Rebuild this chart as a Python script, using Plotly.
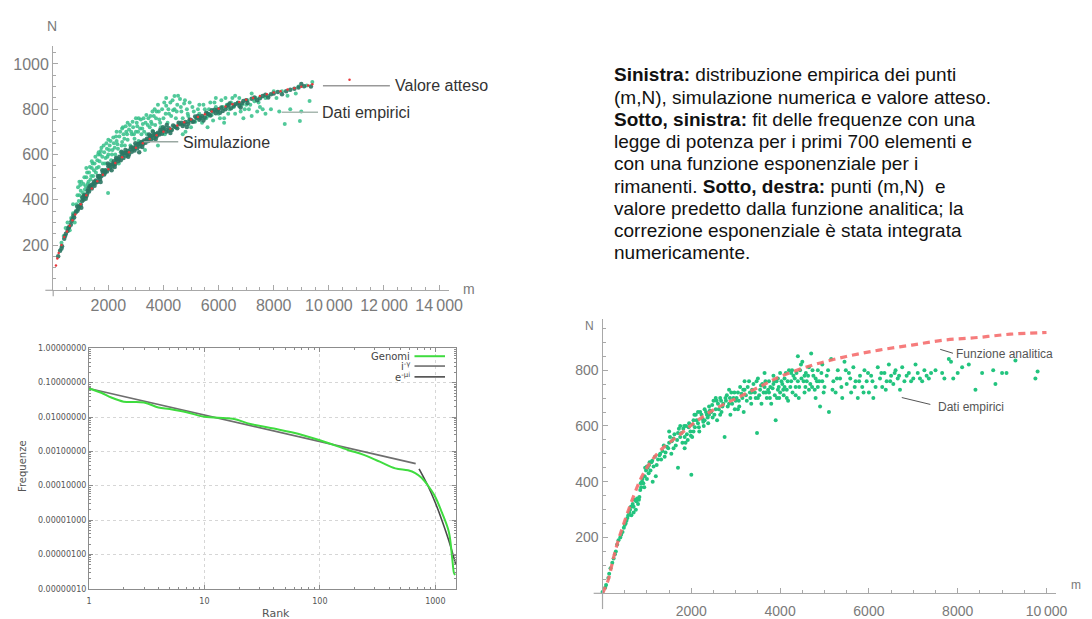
import plotly.graph_objects as go

W, H = 1092, 619
def fx(px): return px / W
def fy(py): return 1 - py / H

# ---------------- Top-left chart: (m, N) ----------------
atteso_m = [100,150,200,300,400,500,600,700,800,1000,1200,1400,1600,1800,2000,2250,2500,2750,3000,3250,3500,3750,4000,4250,4500,4750,5000,5250,5500,5750,6000,6250,6500,6750,7000,7250,7500,7750,8000,8250,8500,8750,9000,9250,9400,10750]
atteso_N = [110,140,165,200,235,260,285,310,335,380,420,450,482,510,535,562,588,610,630,650,668,685,700,714,728,742,755,766,778,790,802,812,822,832,842,850,858,866,874,880,887,893,899,905,910,930]

sim_pts = [(180,150),(250,175),(320,195),(400,228),(460,250),(520,262),(580,280),(640,290),(700,315),(760,322),(820,345),(880,352),(940,370),(1000,378),(1050,395),(1100,400),(1150,418),(1200,415),(1250,440),(1300,436),(1350,455),(1400,450),(1450,470),(1500,462),(1550,485),(1600,478),(1650,498),(1700,492),(1750,505),(1800,520),(1850,512),(1900,530),(1950,525),(2000,548),(2050,538),(2100,556),(2150,548),(2200,570),(2250,558),(2300,578),(2350,570),(2400,590),(2450,575),(2500,598),(2550,585),(2600,605),(2650,594),(2700,616),(2750,600),(2800,622),(2850,612),(2900,630),(2950,618),(3000,640),(3050,628),(3100,648),(3150,636),(3200,655),(3250,645),(3300,662),(3350,652),(3400,670),(3450,660),(3500,676),(3550,666),(3600,684),(3650,672),(3700,690),(3750,680),(3800,696),(3850,688),(3900,702),(3950,692),(4000,708),(4100,700),(4200,716),(4300,708),(4400,724),(4500,716),(4600,734),(4700,726),(4800,744),(4900,736),(5000,752),(5100,746),(5200,762),(5300,754),(5400,770),(5500,764),(5600,780),(5700,772),(5800,790),(5900,782),(6000,800),(6150,792),(6300,812),(6450,804),(6600,822),(6750,815),(6900,836),(7050,828),(7200,846),(7400,840),(7600,858),(7800,852),(8000,870),(8300,866),(8600,886),(8900,896),(9100,902),(1020,365),(1230,425),(1480,480),(1720,478),(1980,560),(2230,545),(2480,612),(2720,590),(2980,650),(3230,633),(3480,688),(3720,668),(3980,720),(4250,695),(4550,740),(4850,722),(5150,768),(5450,750),(5750,795),(6050,785),(6400,825),(6800,808),(2120,530),(2620,620),(3120,610),(3620,700),(4120,730),(1620,505),(1320,460),(1120,420),(870,370),(660,305),(9000,912),(9350,900),
           (300,185),(430,240),(550,275),(730,330),(910,360),(1060,410),(1180,405),(1280,450),(1380,465),(1530,475),(1680,505),(1780,530),(1880,520),(2030,555),(2180,560),(2280,585),(2380,580),(2530,605),(2680,605),(2830,632),(2930,625),(3080,645),(3180,650),(3280,655),(3380,662),(3530,682),(3680,688),(3780,690),(3880,708),(4050,715),(4180,705),(4350,728),(4450,720),(4650,740),(4750,735),(4950,755),(5050,745),(5250,770),(5350,762),(5550,785),(5650,778),(5850,798),(5950,795),(6100,808),(6250,800),(6350,818),(6550,815),(6700,828),(6850,826),(7000,840),(7300,852),(7500,848),(7700,864),(7900,866),(8150,876),(8450,880),(8750,890)]

emp1_pts = [(300,210),(380,240),(450,275),(520,300),(600,265),(650,320),(720,340),(780,300),(850,380),(900,455),(950,420),(980,465),(1000,440),(1050,410),(1100,470),(1150,445),(1200,500),(1250,470),(1300,520),(1350,490),(1400,540),(1450,505),(1500,560),(1550,520),(1600,575),(1650,545),(1700,600),(1750,630),(1800,560),(1850,610),(1900,585),(1950,625),(1990,430),(2000,600),(2050,640),(2100,575),(2150,620),(2200,650),(2250,600),(2300,660),(2350,625),(2400,680),(2450,610),(2500,655),(2550,690),(2600,640),(2650,700),(2700,665),(2750,710),(2800,640),(2850,690),(2900,720),(2950,670),(3000,700),(3050,725),(3100,660),(3150,715),(3200,690),(3250,735),(3300,700),(3350,740),(3400,690),(3450,760),(3500,720),(3550,745),(3600,705),(3650,770),(3700,730),(3750,790),(3800,640),(3850,755),(3900,720),(3950,800),(4000,760),(4050,690),(4100,815),(4150,740),(4200,780),(4250,830),(4300,710),(4350,795),(4400,858),(4450,760),(4500,820),(4550,735),(4600,845),(4650,790),(4700,760),(4750,825),(4800,700),(4850,800),(4900,770),(4950,830),(5000,720),(5100,790),(5200,760),(5300,820),(5400,740),(5500,800),(5600,770),(5700,830),(5800,750),(5900,810),(6000,780),(6100,840),(6200,760),(6300,820),(6400,800),(6500,850),(6600,780),(6700,830),(6800,790),(6900,760),(7000,820),(7100,800),(7200,770),(7300,835),(7400,790),(7500,810),(7700,780),(7900,800),(8200,790),(8400,735),(8950,748),(9300,836),(8600,800),(9000,790),(3330,620),(2380,560),(1830,530),(4700,690),(5600,720),(6200,740),(3100,760),(2700,740),(3600,790),(4100,850),(2300,700),(1650,610),(1200,540),(950,480),(720,380),(1400,570),(2000,665),(2500,715),(3000,760),(3800,820),(4400,800),(4900,745),(5300,780),(5900,850),(6600,860),(7200,870),(8000,880),(8800,870),(9200,905),(7700,850),
            (820,350),(880,420),(930,395),(1020,480),(1080,430),(1130,500),(1180,460),(1230,520),(1280,480),(1330,545),(1380,505),(1430,560),(1480,530),(1530,590),(1580,540),(1630,600),(1680,570),(1730,615),(1780,590),(1830,640),(1880,560),(1930,650),(1970,590),(2030,620),(2080,660),(2130,600),(2180,675),(2230,630),(2280,680),(2330,645),(2430,700),(2480,640),(2530,720),(2580,670),(2630,725),(2680,690),(2780,730),(2830,700),(2880,745),(2930,690),(3030,740),(3080,700),(3180,755),(3230,715),(3280,760),(3380,775),(3430,730),(3530,770),(3580,735),(3680,800),(3730,760),(3830,790),(3880,740),(4030,830),(4080,780),(4180,800),(4280,770),(4330,840),(4480,790),(4530,860),(4630,810),(4780,840),(4880,780),(5050,810),(5150,745),(5250,800),(5350,760),(5450,820),(5550,760),(5650,800),(5750,775),(5850,830),(5950,790),(6050,760),(6150,810),(6250,850),(6350,780),(6450,830),(6550,810),(6750,850),(6850,820),(6950,800),(7050,840),(7150,820),(7350,850),(7450,830),(7600,800),(7800,860),(8100,850),(8300,880),(8500,860),(9400,920),(8900,900)]

# ---------------- Bottom-left chart: rank / frequency ----------------
genomi_rank = [1,1.28,1.56,2,3,4,5,7,10,17.6,25,40,57,100,175,240,330,450,580,670,760,870,990,1140,1310,1400,1450,1483]
genomi_freq = [0.068,0.051,0.037,0.028,0.0265,0.019,0.017,0.0138,0.0102,0.0089,0.0063,0.0046,0.0036,0.0021,0.0011,0.00079,0.0005,0.00032,0.00028,0.000234,0.00017,0.0000977,0.00005,0.0000166,0.0000045,0.00000078,0.00000029,0.00000025]
power_rank = [1, 676]
power_freq = [0.068, 0.00044]
exp_rank = [723, 850, 1000, 1150, 1300, 1450, 1504]
exp_freq = [0.00031, 0.00011, 0.000032, 0.0000091, 0.0000027, 0.00000078, 0.0000005]
freq_tickvals = [1e-7,1e-6,1e-5,1e-4,1e-3,1e-2,1e-1,1]
freq_ticktext = ["0.00000010","0.00000100","0.00001000","0.00010000","0.00100000","0.01000000","0.10000000","1.00000000"]

# ---------------- Bottom-right chart: (m, N) + analytic ----------------
anal_m = [0,60,133,244,355,503,687,872,1094,1353,1723,2092,2536,3053,3644,4013,4752,5491,6230,6969,7708,8447,9186,10000]
anal_N = [0,20,50,125,190,261,343,414,473,520,567,614,661,702,749,778,819,849,872,890,908,917,929,935]

emp3_pts = [(0,5),(60,20),(130,55),(180,90),(250,125),(300,150),(360,190),(400,200),(420,210),(480,235),(520,250),(560,270),(600,290),(620,300),(650,280),(680,320),(700,310),(720,335),(750,300),(780,340),(800,320),(820,335),(850,370),(870,380),(890,400),(920,395),(950,420),(980,440),(1000,410),(1020,450),(1050,460),(1080,440),(1100,470),(1130,400),(1150,455),(1200,420),(1250,480),(1300,500),(1350,510),(1400,490),(1450,525),(1500,540),(1550,500),(1600,555),(1650,530),(1700,575),(1700,450),(1750,560),(1800,540),(1820,590),(1850,520),(1880,600),(1900,570),(1920,550),(1950,610),(1980,580),(2000,425),(2020,560),(2050,620),(2080,595),(2100,640),(2150,610),(2180,580),(2200,650),(2250,625),(2280,600),(2300,660),(2350,640),(2380,610),(2400,670),(2450,650),(2480,630),(2500,690),(2550,660),(2580,620),(2600,680),(2650,700),(2680,650),(2700,670),(2750,560),(2780,690),(2800,710),(2850,680),(2880,640),(2900,720),(2950,700),(2980,660),(3000,690),(3050,720),(3080,670),(3100,740),(3150,700),(3180,650),(3200,730),(3250,690),(3300,760),(3320,720),(3350,680),(3400,750),(3450,700),(3480,575),(3500,770),(3550,730),(3580,680),(3600,750),(3650,790),(3680,720),(3700,700),(3750,760),(3780,740),(3800,680),(3850,780),(3880,710),(3900,620),(3920,760),(3950,730),(3980,700),(4000,790),(4050,750),(4080,710),(4100,770),(4150,730),(4180,690),(4200,800),(4250,760),(4280,720),(4300,780),(4350,740),(4400,850),(4420,700),(4450,800),(4480,770),(4500,830),(4550,720),(4580,790),(4600,760),(4650,810),(4700,860),(4720,740),(4750,780),(4800,700),(4850,800),(4880,760),(4900,670),(4950,820),(5000,740),(5050,780),(5100,650),(5150,840),(5200,760),(5250,720),(5300,800),(5350,770),(5400,700),(5450,830),(5500,750),(5550,790),(5600,720),(5650,810),(5700,760),(5750,700),(5800,780),(5850,740),(5900,800),(5950,760),(6000,720),(6050,780),(6100,700),(6200,810),(6250,770),(6300,740),(6350,790),(6400,760),(6450,820),(6500,780),(6550,750),(6600,800),(6650,770),(6700,730),(6750,810),(6800,760),(6900,790),(7000,770),(7050,820),(7100,790),(7200,760),(7250,800),(7300,780),(7350,770),(7500,800),(7650,790),(7850,830),(7900,770),(8000,790),(8100,810),(8250,820),(8400,730),(8550,790),(8800,800),(8850,750),(9000,790),(9100,790),(9750,770),(9800,795),(9300,835),(7800,840),(1500,580),(1600,520),(1750,600),(1850,560),(2050,580),(2150,650),(2300,620),(2400,640),(2550,700),(2650,640),(2850,730),(3050,660),(3200,760),(3350,720),(3500,700),(3650,740),(3750,720),(3850,750),(4000,720),(4100,740),(4250,790),(4400,760),(4550,780),(4650,730),(4800,770),(4850,740),(4950,760),(3950,770),(4350,710),(4150,700),
            (80,30),(150,70),(220,110),(280,140),(330,175),(450,220),(500,245),(540,260),(580,280),(640,310),(700,290),(760,330),(830,345),(860,395),(900,410),(940,380),(960,450),(1000,455),(1040,430),(1060,470),(1120,475),(1180,490),(1220,460),(1280,495),(1320,480),(1380,530),(1420,505),(1480,520),(1520,560),(1560,545),(1620,570),(1680,550),(1720,590),(1780,575),(1840,600),(1870,540),(1940,595),(1990,565),(2030,605),(2070,640),(2120,620),(2170,595),(2230,640),(2270,615),(2330,650),(2370,630),(2420,655),(2470,675),(2520,640),(2570,690),(2620,660),(2670,690),(2720,680),(2770,700),(2820,670),(2870,700),(2920,680),(2970,720),(3020,700),(3070,690),(3130,715),(3170,730),(3230,710),(3270,740),(3330,700),(3370,730),(3430,720),(3470,760),(3530,710),(3570,745),(3630,720),(3670,760),(3730,730),(3770,700),(3830,735),(3870,760),(3930,700),(3970,740),(4030,760),(4070,730),(4130,790),(4170,760),(4230,740),(4270,800),(4330,770),(4370,790),(4430,740),(4470,820),(4530,760),(4570,740),(4630,780),(4680,750),(4730,800),(4780,730),(4830,760),(4930,790),(4980,720),(5080,800),(5180,730),(5280,770),(5380,740),(5480,800),(5580,770),(5680,740),(5780,760),(5880,720),(5980,790),(6080,760),(6150,740),(6280,790),(6380,730),(6480,760),(6580,790),(6680,780),(6850,780),(6950,760),(7150,770),(7400,790),(7700,770)]

text_lines = [
    "<b>Sinistra:</b> distribuzione empirica dei punti",
    "(m,N), simulazione numerica e valore atteso.",
    "<b>Sotto, sinistra:</b> fit delle frequenze con una",
    "legge di potenza per i primi 700 elementi e",
    "con una funzione esponenziale per i",
    "rimanenti. <b>Sotto, destra:</b> punti (m,N)  e",
    "valore predetto dalla funzione analitica; la",
    "correzione esponenziale è stata integrata",
    "numericamente.",
]

# ---------------- Figure ----------------
fig = go.Figure()

# top-left
fig.add_trace(go.Scatter(x=[p[0] for p in emp1_pts], y=[p[1] for p in emp1_pts], mode="markers",
                         marker=dict(size=4, color="rgba(52,192,136,0.85)"), xaxis="x", yaxis="y", cliponaxis=False))
fig.add_trace(go.Scatter(x=[p[0] for p in sim_pts], y=[p[1] for p in sim_pts], mode="markers",
                         marker=dict(size=4.5, color="rgba(42,118,98,0.9)"), xaxis="x", yaxis="y", cliponaxis=False))
fig.add_trace(go.Scatter(x=atteso_m, y=atteso_N, mode="markers",
                         marker=dict(size=2.5, color="#e8383c"), xaxis="x", yaxis="y", cliponaxis=False))

# bottom-left
fig.add_trace(go.Scatter(x=power_rank, y=power_freq, mode="lines", line=dict(color="#6e6e6e", width=1.6),
                         xaxis="x2", yaxis="y2"))
fig.add_trace(go.Scatter(x=exp_rank, y=exp_freq, mode="lines", line=dict(color="#4a4a4a", width=1.6, shape="spline"),
                         xaxis="x2", yaxis="y2"))
fig.add_trace(go.Scatter(x=genomi_rank, y=genomi_freq, mode="lines", line=dict(color="#3fdc3f", width=2, shape="spline"),
                         xaxis="x2", yaxis="y2"))

# bottom-right
fig.add_trace(go.Scatter(x=[p[0] for p in emp3_pts], y=[p[1] for p in emp3_pts], mode="markers",
                         marker=dict(size=4, color="#22c47e"), xaxis="x3", yaxis="y3", cliponaxis=False))
fig.add_trace(go.Scatter(x=anal_m, y=anal_N, mode="lines", line=dict(color="rgba(245,110,110,0.9)", width=3.2, dash="7px,5px", shape="spline"),
                         xaxis="x3", yaxis="y3", cliponaxis=False))

axis_gray = "#a8a8a8"
tick_font_m = dict(family="Liberation Sans, Arial", size=16, color="#7a7a7a")
tick_font_m3 = dict(family="Liberation Sans, Arial", size=14, color="#7a7a7a")
gp_font = dict(family="DejaVu Sans, Liberation Sans", size=8, color="#555555")
thin = "\u2009"

fig.update_layout(
    width=W, height=H, margin=dict(l=0, r=0, t=0, b=0),
    paper_bgcolor="white", plot_bgcolor="rgba(0,0,0,0)", showlegend=False,
    xaxis=dict(domain=[fx(51), fx(453)], range=[0, 14357], anchor="y",
               showline=True, linecolor=axis_gray, linewidth=1.2, showgrid=False, zeroline=False,
               ticks="inside", ticklen=5, tickcolor=axis_gray,
               tickvals=[2000,4000,6000,8000,10000,12000,14000],
               ticktext=["2000","4000","6000","8000","10"+thin+"000","12"+thin+"000","14"+thin+"000"],
               minor=dict(ticks="inside", ticklen=3, dtick=500, tick0=0, tickcolor=axis_gray, showgrid=False),
               tickfont=tick_font_m),
    yaxis=dict(domain=[fy(291), fy(43)], range=[0, 1078], anchor="x",
               showline=True, linecolor=axis_gray, linewidth=1.2, showgrid=False, zeroline=False,
               ticks="inside", ticklen=5, tickcolor=axis_gray,
               tickvals=[200,400,600,800,1000],
               minor=dict(ticks="inside", ticklen=3, dtick=50, tick0=0, tickcolor=axis_gray, showgrid=False),
               tickfont=tick_font_m),
    xaxis2=dict(domain=[fx(87.3), fx(460.5)], type="log", range=[0, 3.182], anchor="y2",
                showline=True, mirror="ticks", linecolor="#8c8c8c", linewidth=1,
                showgrid=True, gridcolor="#d6d6d6", griddash="dot", gridwidth=1, zeroline=False,
                ticks="inside", ticklen=4, tickcolor="#8c8c8c", ticklabelstandoff=5,
                tickvals=[1,10,100,1000], ticktext=["1","10","100","1000"],
                minor=dict(ticks="inside", ticklen=2, tickcolor="#8c8c8c", showgrid=False,
                           tickvals=[2,3,4,5,6,7,8,9,20,30,40,50,60,70,80,90,200,300,400,500,600,700,800,900]),
                tickfont=gp_font),
    yaxis2=dict(domain=[fy(594.3), fy(350)], type="log", range=[-7, 0], anchor="x2",
                showline=True, mirror="ticks", linecolor="#8c8c8c", linewidth=1,
                showgrid=True, gridcolor="#d6d6d6", griddash="dot", gridwidth=1, zeroline=False,
                ticks="inside", ticklen=4, tickcolor="#8c8c8c",
                tickvals=freq_tickvals, ticktext=freq_ticktext,
                minor=dict(ticks="inside", ticklen=2, tickcolor="#8c8c8c", showgrid=False,
                           tickvals=[m * 10.0 ** e for e in range(-7, 0) for m in range(2, 10)]),
                tickfont=gp_font),
    xaxis3=dict(domain=[fx(609), fx(1070)], range=[0, 10222], anchor="y3",
                showline=True, linecolor=axis_gray, linewidth=1.2, showgrid=False, zeroline=False,
                ticks="inside", ticklen=5, tickcolor=axis_gray, ticklabelstandoff=5,
                tickvals=[2000,4000,6000,8000,10000], ticktext=["2000","4000","6000","8000","10"+thin+"000"],
                minor=dict(ticks="inside", ticklen=3, dtick=500, tick0=0, tickcolor=axis_gray, showgrid=False),
                tickfont=tick_font_m3),
    yaxis3=dict(domain=[fy(599), fy(320)], range=[0, 984], anchor="x3",
                showline=True, linecolor=axis_gray, linewidth=1.2, showgrid=False, zeroline=False,
                ticks="inside", ticklen=5, tickcolor=axis_gray,
                tickvals=[200,400,600,800],
                minor=dict(ticks="inside", ticklen=3, dtick=50, tick0=0, tickcolor=axis_gray, showgrid=False),
                tickfont=tick_font_m3),
)

shapes = []
def seg(x0, y0, x1, y1, color, width=1.2):
    shapes.append(dict(type="line", xref="paper", yref="paper", x0=fx(x0), y0=fy(y0), x1=fx(x1), y1=fy(y1),
                       line=dict(color=color, width=width)))

# axis extensions (Mathematica style)
seg(43, 291, 51, 291, axis_gray)
seg(51, 291, 51, 297, axis_gray)
seg(600, 599, 609, 599, axis_gray)
seg(609, 599, 609, 615, axis_gray)
# label pointers top-left
seg(325, 83, 393, 83, "#999999", 1.5)
seg(283, 110, 320, 110, "#a8b8b0", 1.5)
seg(143, 140, 178, 140, "#9aa8a2", 1.5)
# label pointers bottom-right
seg(952, 351, 965, 355, "#555555", 1)
seg(913, 400, 942, 407, "#555555", 1)
# gnuplot legend samples
seg(418, 358, 449, 358, "#3fdc3f", 2)
seg(418, 368, 449, 368, "#6e6e6e", 1.6)
seg(418, 379, 449, 379, "#4a4a4a", 1.6)
fig.update_layout(shapes=shapes)

ann = []
def txt(x, y, s, size, color="#333333", xanchor="left", yanchor="middle", family="Liberation Sans, Arial", angle=0):
    ann.append(dict(xref="paper", yref="paper", x=fx(x), y=fy(y), text=s, showarrow=False,
                    xanchor=xanchor, yanchor=yanchor, textangle=angle, borderpad=0,
                    font=dict(family=family, size=size, color=color)))

# axis titles
txt(50, 22, "N", 14, "#7a7a7a", xanchor="center")
txt(466, 290, "m", 14, "#7a7a7a")
txt(596, 327, "N", 12, "#7a7a7a", xanchor="center")
txt(1084, 591, "m", 12, "#7a7a7a")
txt(20, 470, "Frequenze", 10, "#555555", xanchor="center", angle=-90, family="DejaVu Sans, Liberation Sans")
txt(277, 620, "Rank", 11, "#555555", xanchor="center", family="DejaVu Sans, Liberation Sans")
# labels top-left
txt(397, 83, "Valore atteso", 16, "#333333")
txt(323, 110, "Dati empirici", 16, "#333333")
txt(182, 141, "Simulazione", 16, "#333333")
# labels bottom-right
txt(967, 356, "Funzione analitica", 12, "#555555")
txt(949, 410, "Dati empirici", 12, "#555555")
# gnuplot legend text
txt(414, 358, "Genomi", 10, "#444444", xanchor="right", family="DejaVu Sans, Liberation Sans")
txt(414, 368, "i<sup>-γ</sup>", 10, "#444444", xanchor="right", family="DejaVu Sans, Liberation Sans")
txt(414, 379, "e<sup>-μi</sup>", 10, "#444444", xanchor="right", family="DejaVu Sans, Liberation Sans")
# description text
for i, line in enumerate(text_lines):
    txt(620, 72 + i * 22.6, line, 19, "#111111")
fig.update_layout(annotations=ann)

fig.write_html("out.html")
